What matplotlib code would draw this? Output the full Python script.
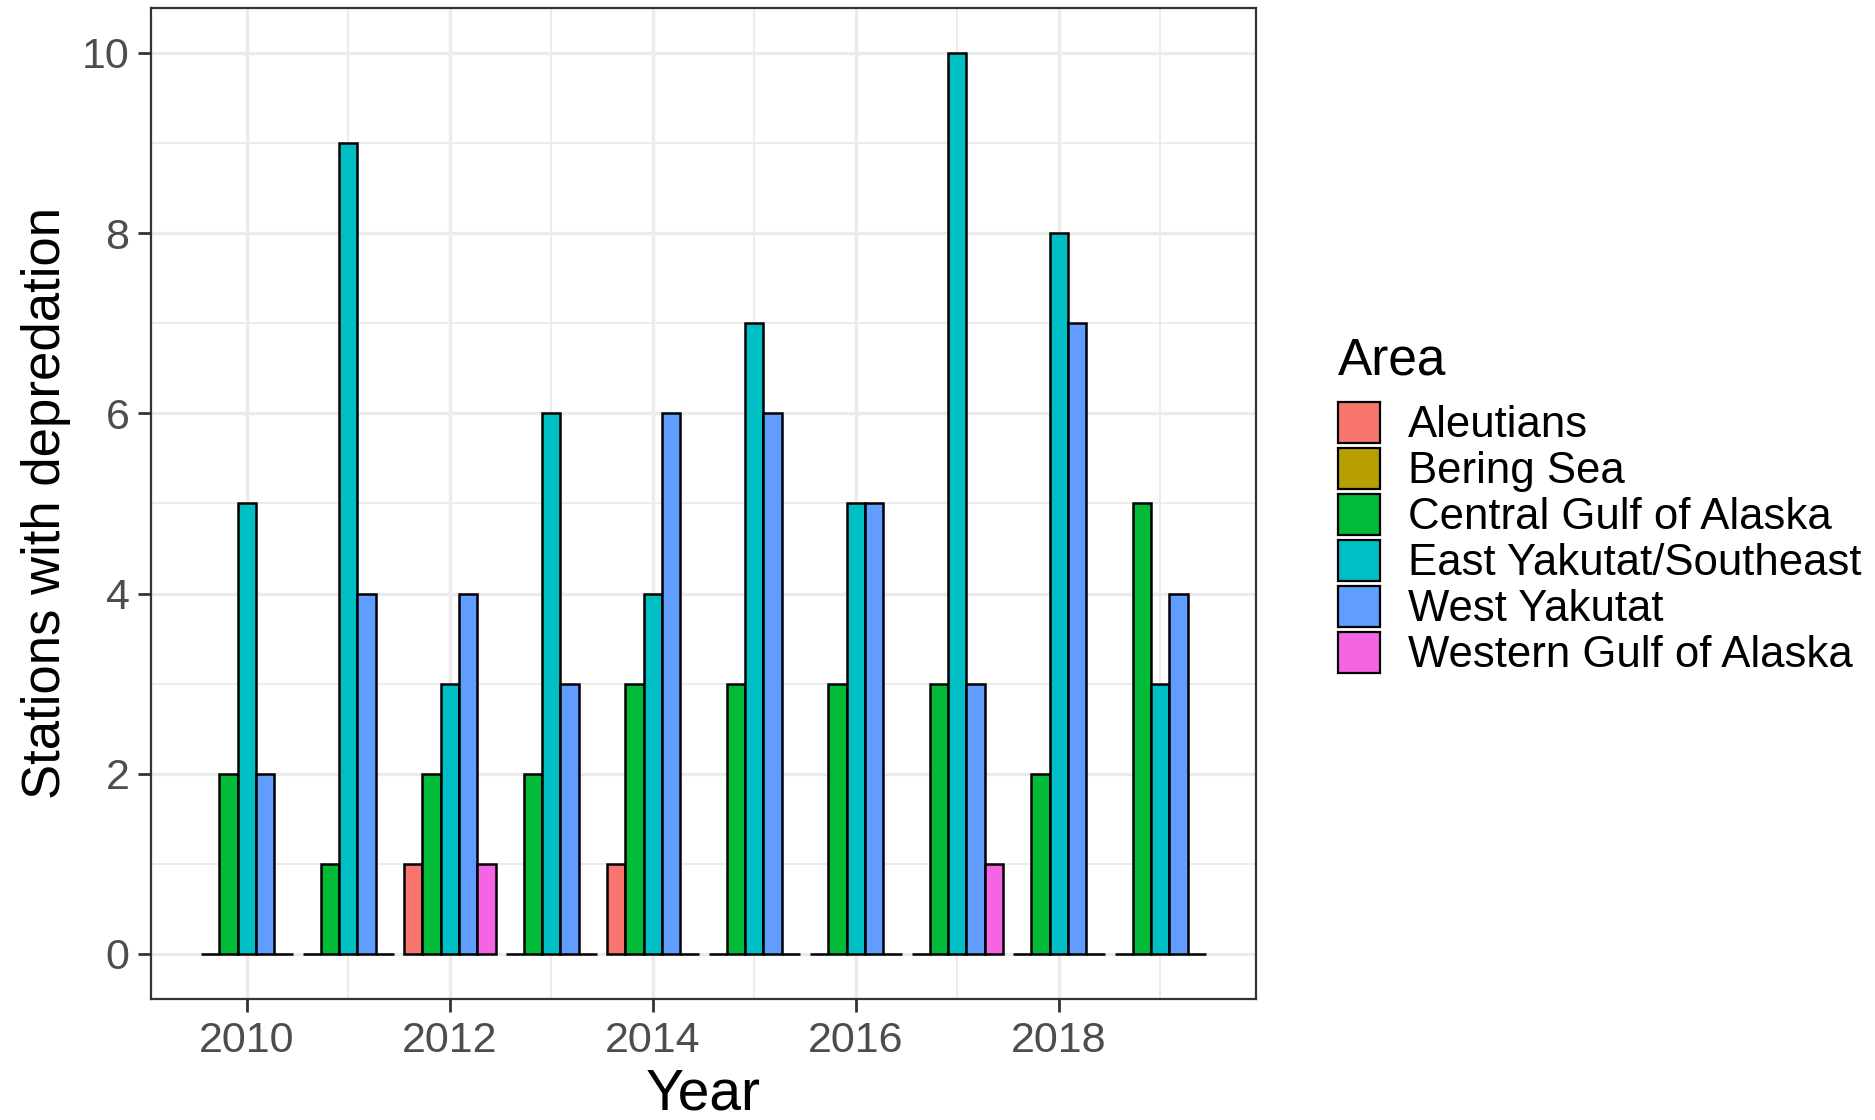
import numpy as np
import matplotlib as mpl
mpl.use('Agg')
import matplotlib.pyplot as plt
from matplotlib.patches import Patch

plt.rcParams['font.family'] = ['Liberation Sans', 'DejaVu Sans']

# data (stations with depredation per area and year)
years = [2010, 2011, 2012, 2013, 2014, 2015, 2016, 2017, 2018, 2019]
aleutians = [0, 0, 1, 0, 1, 0, 0, 0, 0, 0]
central_goa = [2, 1, 2, 2, 3, 3, 3, 3, 2, 5]
east_yakutat = [5, 9, 3, 6, 4, 7, 5, 10, 8, 3]
west_yakutat = [2, 4, 4, 3, 6, 6, 5, 3, 7, 4]
western_goa = [0, 0, 1, 0, 0, 0, 0, 1, 0, 0]

legend_areas = ["Aleutians", "Bering Sea", "Central Gulf of Alaska",
                "East Yakutat/Southeast", "West Yakutat", "Western Gulf of Alaska"]
area_colors = ["#F8766D", "#B79F00", "#00BA38", "#00BFC4", "#619CFF", "#F564E3"]

# areas present in the data (Bering Sea has no rows)
series = [
    (aleutians, area_colors[0]),
    (central_goa, area_colors[2]),
    (east_yakutat, area_colors[3]),
    (west_yakutat, area_colors[4]),
    (western_goa, area_colors[5]),
]

fig = plt.figure(figsize=(18.75, 11.2), dpi=100)
ax = fig.add_axes([0.0805, 0.108, 0.5895, 0.885])

x = np.array(years, dtype=float)
nser = len(series)
bw = 0.9 / nser
for i, (vals, col) in enumerate(series):
    off = -0.45 + bw * (i + 0.5)
    ax.bar(x + off, vals, width=bw, color=col, edgecolor="black",
           linewidth=1.8, zorder=3)

ax.set_xlim(2009.055, 2019.945)
ax.set_ylim(-0.5, 10.5)
ax.set_xticks([2010, 2012, 2014, 2016, 2018])
ax.set_xticks([2011, 2013, 2015, 2017, 2019], minor=True)
ax.set_yticks([0, 2, 4, 6, 8, 10])
ax.set_yticks([1, 3, 5, 7, 9], minor=True)

ax.grid(which="major", color="#EBEBEB", linewidth=2.4, zorder=0)
ax.grid(which="minor", color="#EBEBEB", linewidth=1.3, zorder=0)
ax.set_axisbelow(True)

for sp in ax.spines.values():
    sp.set_color("#333333")
    sp.set_linewidth(1.6)

ax.tick_params(which="major", length=9.5, width=2.0, color="#333333",
               labelsize=31, labelcolor="#4D4D4D", pad=6)
ax.tick_params(which="minor", length=0)

ax.set_xlabel("Year", fontsize=41, labelpad=5)
ax.set_ylabel("Stations with depredation", fontsize=38, labelpad=8)

# legend: title as separate text, keys below it
fig.text(0.7136, 0.666, "Area", fontsize=37, ha="left", va="baseline")
handles = [Patch(facecolor=c, edgecolor="black", linewidth=1.6) for c in area_colors]
leg = fig.legend(handles, legend_areas, loc="upper left",
                 bbox_to_anchor=(0.7136, 0.641), frameon=False,
                 fontsize=31.5, handlelength=0.95, handleheight=1.05,
                 labelspacing=0.04, handletextpad=0.65,
                 borderpad=0, borderaxespad=0)

fig.savefig("out.png", dpi=100)
